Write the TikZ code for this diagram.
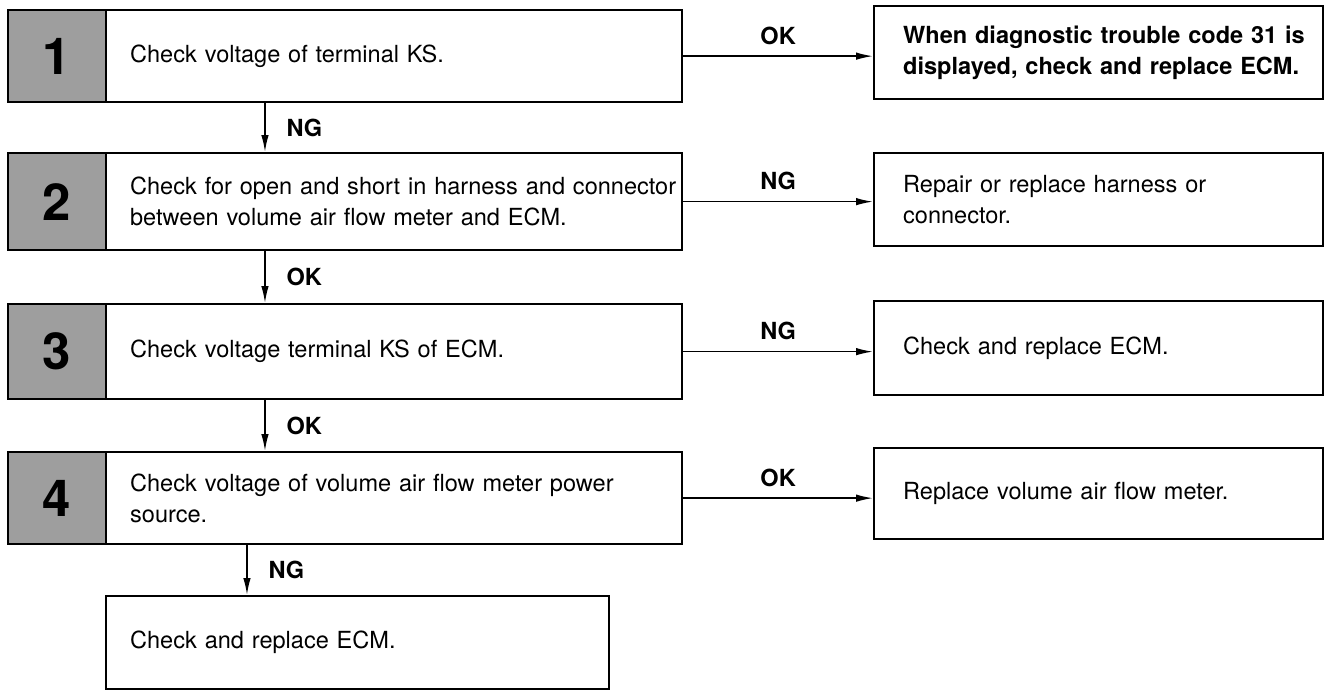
\documentclass[tikz,border=0pt]{standalone}
\usepackage{fontspec}
\setmainfont{TeX Gyre Heros}
\usetikzlibrary{arrows.meta}

\begin{document}
\begin{tikzpicture}[x=0.02cm,y=-0.02cm,
  txt/.style={font=\fontsize{13.4}{17.4}\selectfont},
  numbox/.style={draw,line width=1.3pt,fill=black!38,anchor=north west,inner sep=0pt,
    minimum width=1.96cm,minimum height=#1,font=\fontsize{29}{29}\selectfont\bfseries},
  stepbox/.style={draw,line width=1.3pt,anchor=north west,txt,align=left,inner xsep=0.48cm,
    text width=11.52cm-0.96cm,minimum height=#1},
  endbox/.style={draw,line width=1.3pt,anchor=north west,txt,align=left,inner xsep=0.58cm,
    text width=8.98cm-1.16cm,minimum height=#1},
  arr/.style={line width=0.9pt,-{Latex[length=3.4mm,width=1.5mm]}},
  lbl/.style={font=\fontsize{13.4}{15}\selectfont\bfseries}]
  \useasboundingbox (0,0) rectangle (1327,690);

  \node[numbox=1.84cm] (n1) at (7,9) {1};
  \node[stepbox=1.84cm] (b1) at (105,9) {Check voltage of terminal KS.};
  \node[endbox=1.86cm,font=\fontsize{13.4}{17.4}\selectfont\bfseries] (r1) at (873,5)
    {\mbox{When diagnostic trouble code 31 is}\\ \mbox{displayed, check and replace ECM.}};

  \node[numbox=1.94cm] (n2) at (7,152) {2};
  \node[stepbox=1.94cm] (b2) at (105,152)
    {\mbox{Check for open and short in harness and connector}\\ between volume air flow meter and ECM.};
  \node[endbox=1.86cm] (r2) at (873,152) {Repair or replace harness or\\ connector.};

  \node[numbox=1.90cm] (n3) at (7,303) {3};
  \node[stepbox=1.90cm] (b3) at (105,303) {Check voltage terminal KS of ECM.};
  \node[endbox=1.88cm] (r3) at (873,300) {Check and replace ECM.};

  \node[numbox=1.84cm] (n4) at (7,451) {4};
  \node[stepbox=1.84cm] (b4) at (105,451)
    {Check voltage of volume air flow meter power\\ source.};
  \node[endbox=1.82cm] (r4) at (873,447) {Replace volume air flow meter.};

  \node[stepbox=1.86cm,text width=10.06cm-0.96cm] (b5) at (105,595) {Check and replace ECM.};

  \draw[arr] (b1.east) -- (b1.east -| r1.west) node[lbl,midway,above=0.1cm] {OK};
  \draw[arr] (b2.east) -- (b2.east -| r2.west) node[lbl,midway,above=0.1cm] {NG};
  \draw[arr] (b3.east) -- (b3.east -| r3.west) node[lbl,midway,above=0.1cm] {NG};
  \draw[arr] (b4.east) -- (b4.east -| r4.west) node[lbl,midway,above=0.1cm] {OK};

  \draw[arr] ([xshift=3.2cm]b1.south west) -- ([xshift=3.2cm]b1.south west |- b2.north)
    node[lbl,midway,right=0.3cm] {NG};
  \draw[arr] ([xshift=3.2cm]b2.south west) -- ([xshift=3.2cm]b2.south west |- b3.north)
    node[lbl,midway,right=0.3cm] {OK};
  \draw[arr] ([xshift=3.2cm]b3.south west) -- ([xshift=3.2cm]b3.south west |- b4.north)
    node[lbl,midway,right=0.3cm] {OK};
  \draw[arr] ([xshift=2.84cm]b4.south west) -- ([xshift=2.84cm]b4.south west |- b5.north)
    node[lbl,midway,right=0.3cm] {NG};
\end{tikzpicture}
\end{document}
